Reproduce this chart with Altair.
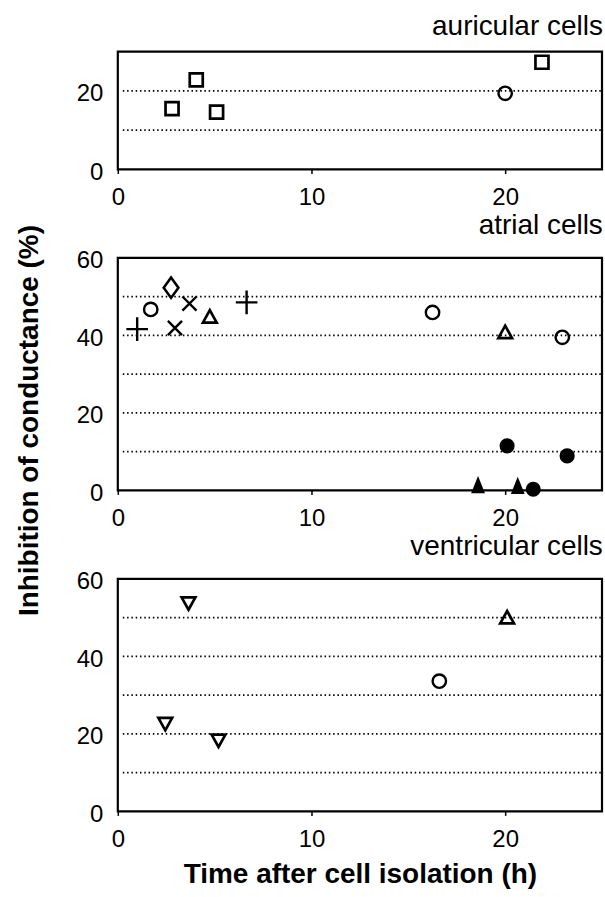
import altair as alt
import pandas as pd

FONT = "Liberation Sans"

# ---- data ----
x_ticks = [0, 10, 20]

aur_x = [2.8, 4.05, 5.1, 20.0, 21.9]
aur_y = [15.5, 22.8, 14.6, 19.4, 27.3]
aur_m = ["square", "square", "square", "circle", "square"]

atr_x = [1.0, 1.7, 2.75, 2.95, 3.7, 4.75, 6.65, 16.25, 20.0, 22.95, 20.1, 23.2, 18.6, 20.65, 21.45]
atr_y = [41.6, 46.7, 52.3, 41.9, 48.2, 44.8, 48.5, 45.9, 40.8, 39.5, 11.5, 8.9, 1.5, 1.3, 0.3]
atr_m = ["plus", "circle", "diamond", "cross", "cross", "tri_up", "plus", "circle", "tri_up",
         "circle", "dot", "dot", "tri_fill", "tri_fill", "dot"]

ven_x = [3.65, 20.1, 16.6, 2.45, 5.2]
ven_y = [53.7, 50.0, 33.6, 22.6, 18.3]
ven_m = ["tri_down", "tri_up", "circle", "tri_down", "tri_down"]

grid_small = [10, 20]
grid_big = [10, 20, 30, 40, 50]
yticks_small = [0, 20]
yticks_big = [0, 20, 40, 60]

PANEL_W = 485

MARKERS = {
    "square": dict(shape="square", size=170, filled=False, strokeWidth=2.7),
    "circle": dict(shape="circle", size=180, filled=False, strokeWidth=2.4),
    "diamond": dict(shape="M0,-1L0.72,0L0,1L-0.72,0Z", size=420, filled=False, strokeWidth=2.6),
    "plus": dict(shape="M-1,0L1,0M0,-1.1L0,1.1", size=470, filled=False, strokeWidth=2.4),
    "cross": dict(shape="M-1,-1L1,1M-1,1L1,-1", size=200, filled=False, strokeWidth=2.4),
    "tri_up": dict(shape="M0,-0.95L1,0.85L-1,0.85Z", size=190, filled=False, strokeWidth=2.7),
    "tri_down": dict(shape="M0,0.95L1,-0.85L-1,-0.85Z", size=190, filled=False, strokeWidth=2.7),
    "dot": dict(shape="circle", size=230, filled=True),
    "tri_fill": dict(shape="M0,-1L0.8,1L-0.8,1Z", size=300, filled=True),
}


def panel(xs_, ys_, ms_, ydom, yvals, grid, title, height, xtitle=None, ytitle=None):
    df = pd.DataFrame({"t": xs_, "v": ys_, "m": ms_})
    xsc = alt.Scale(domain=[0, 25], nice=False, zero=False)
    ysc = alt.Scale(domain=ydom, nice=False)
    xax = alt.Axis(values=x_ticks, title=xtitle, grid=False, domain=False, ticks=True,
                   tickSize=4, tickWidth=1.5, tickColor="black", labelPadding=12,
                   labelFlush=False, labelOverlap=False, labelFontSize=24, labelFont=FONT,
                   titleFont=FONT, titleFontSize=28, titleFontWeight="bold",
                   titleColor="black", titlePadding=9)
    yargs = dict(values=yvals, grid=False, domain=False, ticks=False, labelPadding=15,
                 labelFlush=False, labelOverlap=False, labelOffset=3, labelFontSize=24,
                 labelFont=FONT)
    if ytitle:
        yax = alt.Axis(title=ytitle, titleX=-80, titleY=369, titleAngle=270,
                       titleBaseline="alphabetic", titleAlign="center", titleFont=FONT,
                       titleFontSize=28, titleFontWeight="bold", titleColor="black", **yargs)
    else:
        yax = alt.Axis(title=None, **yargs)

    gdf = pd.DataFrame({"v": grid})
    rules = alt.Chart(gdf).mark_rule(color="black", strokeDash=[1.5, 2.8], strokeWidth=1.7).encode(
        y=alt.Y("v:Q", scale=ysc, axis=yax),
        x=alt.value(5),
        x2=alt.value(PANEL_W),
    )
    layers = [rules]
    for kind in dict.fromkeys(ms_):
        spec = MARKERS[kind]
        mk = alt.Chart(df).transform_filter(alt.datum.m == kind).mark_point(
            color="black", opacity=1, **spec
        ).encode(
            x=alt.X("t:Q", scale=xsc, axis=xax),
            y=alt.Y("v:Q", scale=ysc, axis=yax),
        )
        layers.append(mk)
    return alt.layer(*layers).properties(
        width=PANEL_W,
        height=height,
        title=alt.TitleParams(title, anchor="end", fontSize=28, fontWeight="normal", font=FONT,
                              color="black", offset=-13, baseline="alphabetic"),
    )


top = panel(aur_x, aur_y, aur_m, [0, 30], yticks_small, grid_small, "auricular cells", 118,
            ytitle="Inhibition of conductance (%)")
mid = panel(atr_x, atr_y, atr_m, [0, 60], yticks_big, grid_big, "atrial cells", 233)
bot = panel(ven_x, ven_y, ven_m, [0, 60], yticks_big, grid_big, "ventricular cells", 233,
            xtitle="Time after cell isolation (h)")

chart = alt.vconcat(top, mid, bot, spacing=88.5, bounds="flush").properties(
    padding={"left": 14, "top": 11, "right": 1, "bottom": 5}
).configure_view(stroke="black", strokeWidth=2.2).configure_axis(
    labelColor="black"
)

chart.save("out.html", embed_options={"renderer": "svg", "actions": False})
